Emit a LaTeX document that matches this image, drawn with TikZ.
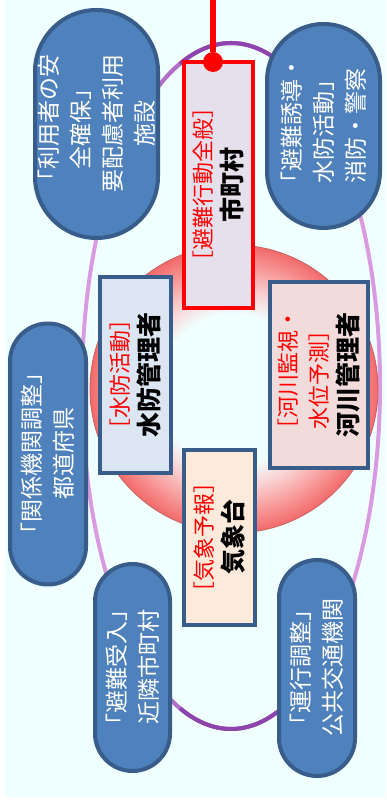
\documentclass[tikz,border=0pt]{standalone}
\usepackage{fontspec}
\setmainfont{Noto Sans CJK JP}
\usetikzlibrary{shapes.misc}

\definecolor{bgcyan}{HTML}{F0FFFF}
\definecolor{rolefill}{HTML}{4F81BD}
\definecolor{roleline}{HTML}{385D8A}
\definecolor{ovallight}{HTML}{DA9AE2}
\definecolor{ovalmid}{HTML}{B070C8}
\definecolor{ovaldark}{HTML}{8E44AD}
\definecolor{ringpale}{HTML}{FAD2D2}
\definecolor{ringred}{HTML}{F79090}
\definecolor{ringedge}{HTML}{F26A6A}
\definecolor{ringrim}{HTML}{C86262}
\definecolor{cityfill}{HTML}{E6E0EC}
\definecolor{floodfill}{HTML}{DCE6F2}
\definecolor{riverfill}{HTML}{F2DCDB}
\definecolor{metfill}{HTML}{FDEADA}

\pgfdeclareradialshading{ringshade}{\pgfpoint{0bp}{0bp}}{color(0bp)=(bgcyan); color(13bp)=(bgcyan); color(17bp)=(ringpale); color(22bp)=(ringred); color(25bp)=(ringedge); color(50bp)=(ringedge)}

\tikzset{
  role/.style={shape=rounded rectangle, rotate=90, draw=roleline, line width=4pt, fill=rolefill,
    text=white, align=center, inner sep=0pt, font=\fontsize{23}{32}\selectfont},
  agency/.style={rectangle, rotate=90, draw=roleline, line width=4pt, align=center, inner sep=0pt,
    font=\fontsize{22}{30}\selectfont}
}
\newcommand{\duty}[1]{{\color{red}#1}}
\newcommand{\taker}[1]{{\bfseries\fontsize{25}{30}\selectfont #1}}

\begin{document}
\begin{tikzpicture}[x=1pt,y=1pt]
\useasboundingbox (0,0) rectangle (386,802);
\fill[white] (0,0) rectangle (386,802);
\fill[bgcyan] (5,5) rectangle (386,802);

% outer oval
\draw[ovallight, line width=4pt] (231,416) ellipse [x radius=149pt, y radius=343pt];
\foreach \a/\b in {55/125, 235/305}
  \draw[ovalmid, line width=4pt] (231,416) ++(\a:149pt and 343pt) arc[start angle=\a, end angle=\b, x radius=149pt, y radius=343pt];
\foreach \a/\b in {70/110, 250/290}
  \draw[ovaldark, line width=4pt] (231,416) ++(\a:149pt and 343pt) arc[start angle=\a, end angle=\b, x radius=149pt, y radius=343pt];

% inner ring
\shade[shading=ringshade] (234,413) circle[radius=144pt];
\draw[ringrim, line width=0.8pt] (234,413) circle[radius=144pt];

% outer roles
\node[role, minimum width=228pt, minimum height=123pt] (care) at (96.5,678) {「利用者の安\\全確保」\\要配慮者利用\\施設};
\node[role, minimum width=204pt, minimum height=113pt] (fire) at (323.5,676) {「避難誘導・\\水防活動」\\消防・警察};
\node[role, minimum width=261pt, minimum height=76pt] (pref) at (48,348) {「関係機関調整」\\都道府県};
\node[role, minimum width=207pt, minimum height=75pt] (nbr) at (132.5,134.5) {「避難受入」\\近隣市町村};
\node[role, minimum width=216pt, minimum height=76pt] (transit) at (317,134) {「運行調整」\\公共交通機関};

% core agencies
\node[agency, draw=red, line width=4.5pt, fill=cityfill, minimum width=246pt, minimum height=69pt] (city) at (218.5,617) {\duty{［避難行動全般］}\\\taker{市町村}};
\node[agency, fill=floodfill, minimum width=196pt, minimum height=71pt] (flood) at (135.5,427) {\duty{［水防活動］}\\\taker{水防管理者}};
\node[agency, fill=riverfill, minimum width=186pt, minimum height=98pt] (river) at (319,427) {\duty{［河川監視・}\\\duty{水位予測］}\\\taker{河川管理者}};
\node[agency, fill=metfill, minimum width=175pt, minimum height=71pt] (met) at (219.5,264.5) {\duty{［気象予報］}\\\taker{気象台}};

% feed line
\coordinate (feed) at (213,802);
\node[circle, fill=red, minimum size=20pt, inner sep=0pt] (hub) at (213,740) {};
\draw[red, line width=6pt] (feed) -- (hub);
\end{tikzpicture}
\end{document}
